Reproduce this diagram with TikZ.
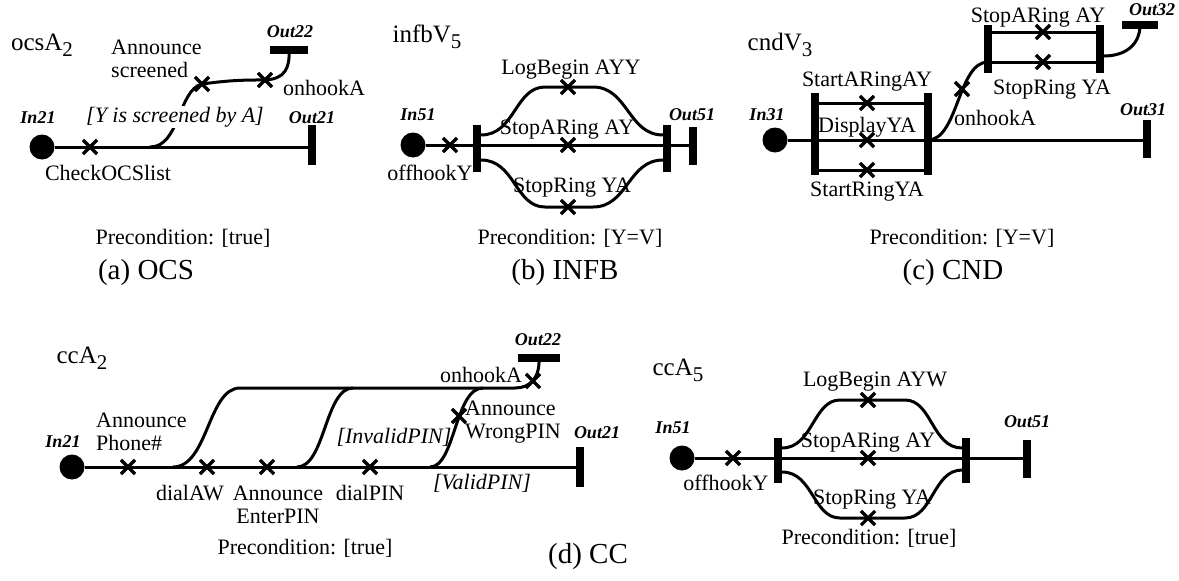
\documentclass[tikz,border=0pt]{standalone}
\usepackage{fontspec}
\setmainfont{Liberation Serif}
\usetikzlibrary{shapes.misc}
\newcommand\lowsub[1]{\raisebox{-6pt}{\fontsize{21}{21}\selectfont #1}}
\tikzset{
 wire/.style={line width=3pt},
 lbl/.style={font=\fontsize{22}{23}\selectfont, inner sep=0pt},
 ttl/.style={font=\fontsize{25}{28}\selectfont, inner sep=0pt},
 capt/.style={font=\fontsize{29}{32}\selectfont, inner sep=0pt},
 port/.style={font=\fontsize{18}{20}\selectfont\bfseries\itshape, inner sep=0pt},
 guard/.style={font=\fontsize{22}{25}\selectfont\itshape, inner sep=1pt},
 xmark/.style={cross out, draw, line width=3.2pt, minimum size=11pt, inner sep=0pt},
 vbar/.style={fill, rectangle, minimum width=8pt, minimum height=#1, inner sep=0pt},
 hbar/.style={fill, rectangle, minimum height=8pt, minimum width=#1, inner sep=0pt},
 indot/.style={circle, fill, minimum size=25pt, inner sep=0pt},
}
\begin{document}
\begin{tikzpicture}[x=1pt,y=-1pt]
\useasboundingbox[fill=white] (0,0) rectangle (1179,581);

% ================= (a) OCS =================
\node[ttl] (tA) at (42,45) {ocsA\lowsub{2}};
\node[indot] (inA) at (42,147) {};
\node[port] (inAl) at (38,118) {In21};
\node[vbar=40pt] (outA1) at (312,145) {};
\node[port] (outA1l) at (312,118) {Out21};
\draw[wire] (inA) -- (inA -| outA1);
\node[xmark] (xA1) at (90,147) {};
\node[lbl] (lA1) at (108,173) {CheckOCSlist};
\coordinate (brA) at (150,147);
\node[xmark] (xA2) at (202,84) {};
\node[xmark] (xA3) at (265,80) {};
\node[hbar=38pt] (outA2) at (289,50) {};
\node[port] (outA2l) at (290,32) {Out22};
\draw[wire] (brA) .. controls (180,147) and (178,90) .. (xA2.center)
  to[bend left=4] (xA3.center) .. controls (285,79) and (290,68) .. (outA2.center);
\node[guard, fill=white] (gA) at (175,117) {[Y is screened by A]};
\node[lbl, align=left, anchor=west] (lA2) at (111,59) {Announce\\screened};
\node[lbl, anchor=west] (lA3) at (283,88) {onhookA};
\node[lbl] (pA) at (183,238) {Precondition: [true]};
\node[capt] (cA) at (146,273) {(a) OCS};

% ================= (b) INFB =================
\node[ttl] (tB) at (427,37) {infbV\lowsub{5}};
\node[indot] (inB) at (413,145) {};
\node[port] (inBl) at (418,115) {In51};
\node[vbar=47pt] (bB1) at (477,148) {};
\node[vbar=47pt] (bB2) at (667,148) {};
\node[vbar=38pt] (outB) at (693,146) {};
\node[port] (outBl) at (692,115) {Out51};
\draw[wire] (inB) -- (inB -| outB);
\node[xmark] (xB1) at (450,145) {};
\node[lbl] (lB1) at (430,173) {offhookY};
\coordinate (bB1t) at (481,135); \coordinate (bB2t) at (663,135);
\coordinate (bB1b) at (481,160); \coordinate (bB2b) at (663,160);
\draw[wire] (bB1t) .. controls (515,135) and (515,87) .. (545,87) -- (593,87)
  .. controls (628,87) and (628,135) .. (bB2t);
\draw[wire] (bB1b) .. controls (515,160) and (515,207) .. (545,207) -- (593,207)
  .. controls (628,207) and (628,160) .. (bB2b);
\node[xmark] (xB2) at (568,87) {};
\node[xmark] (xB3) at (568,145) {};
\node[xmark] (xB4) at (568,207) {};
\node[lbl] (lB2) at (571,70) {LogBegin AYY};
\node[lbl] (lB3) at (567,130) {StopARing AY};
\node[lbl] (lB4) at (572,188) {StopRing YA};
\node[lbl] (pB) at (570,238) {Precondition: [Y=V]};
\node[capt] (cB) at (565,273) {(b) INFB};

% ================= (c) CND =================
\node[ttl] (tC) at (780,45) {cndV\lowsub{3}};
\node[indot] (inC) at (775,140) {};
\node[port] (inCl) at (767,115) {In31};
\node[vbar=82pt] (bC1) at (815,134) {};
\node[vbar=82pt] (bC2) at (928,134) {};
\node[vbar=38pt] (outC1) at (1147,139) {};
\node[port] (outC1l) at (1143,110) {Out31};
\draw[wire] (inC) -- (inC -| outC1);
\node[xmark] (xC1) at (867,103) {};
\node[xmark] (xC2) at (867,140) {};
\node[xmark] (xC3) at (867,170) {};
\draw[wire] (bC1 |- xC1) -- (bC2 |- xC1);
\draw[wire] (bC1 |- xC3) -- (bC2 |- xC3);
\node[lbl] (lC1) at (867,82) {StartARingAY};
\node[lbl] (lC2) at (867,127) {DisplayYA};
\node[lbl] (lC3) at (867,192) {StartRingYA};
\node[vbar=48pt] (bD1) at (988,49) {};
\node[vbar=48pt] (bD2) at (1100,49) {};
\node[xmark] (xD1) at (1043,32) {};
\node[xmark] (xD2) at (1043,62) {};
\draw[wire] (bD1 |- xD1) -- (bD2 |- xD1);
\draw[wire] (bD1 |- xD2) -- (bD2 |- xD2);
\draw[wire] (bC2 |- inC) .. controls (958,140) and (958,62) .. (bD1 |- xD2);
\node[xmark] (xC4) at (962,89) {};
\node[hbar=36pt] (outC2) at (1140,25) {};
\node[port] (outC2l) at (1152,10) {Out32};
\coordinate (bD2o) at (1104,56);
\draw[wire] (bD2o) .. controls (1125,56) and (1140,45) .. (outC2.center);
\node[lbl] (lD1) at (1038,18) {StopARing AY};
\node[lbl] (lD2) at (1052,90) {StopRing YA};
\node[lbl] (lC4) at (995,118) {onhookA};
\node[lbl] (pC) at (962,238) {Precondition: [Y=V]};
\node[capt] (cC) at (953,273) {(c) CND};

% ================= (d) CC =================
\node[ttl] (tD) at (82,358) {ccA\lowsub{2}};
\node[indot] (inD) at (72,467) {};
\node[port] (inDl) at (63,442) {In21};
\node[vbar=40pt] (outD1) at (580,467) {};
\node[port] (outD1l) at (597,433) {Out21};
\draw[wire] (inD) -- (inD -| outD1);
\node[xmark] (xE1) at (128,467) {};
\node[xmark] (xE2) at (207,467) {};
\node[xmark] (xE3) at (267,467) {};
\node[xmark] (xE4) at (370,467) {};
\coordinate (brD1) at (173,467);
\coordinate (brD2) at (297,467);
\coordinate (brD3) at (430,467);
\node[hbar=42pt] (outD2) at (539,358) {};
\node[port] (outD2l) at (538,340) {Out22};
\draw[wire] (brD1) .. controls (208,467) and (208,388) .. (240,388) -- (515,388)
  .. controls (530,388) and (540,378) .. (outD2.center);
\draw[wire] (brD2) .. controls (325,467) and (325,388) .. (353,388);
\draw[wire] (brD3) .. controls (455,467) and (455,388) .. (483,388);
\node[xmark] (xE5) at (459,416) {};
\node[xmark] (xE6) at (533,381) {};
\node[lbl, align=left, anchor=west] (lE1) at (96,432) {Announce\\Phone\#};
\node[lbl] (lE2) at (190,493) {dialAW};
\node[lbl, align=center] (lE3) at (278,505) {Announce\\EnterPIN};
\node[lbl] (lE4) at (370,493) {dialPIN};
\node[guard] (gE1) at (394,437) {[InvalidPIN]};
\node[guard] (gE2) at (482,483) {[ValidPIN]};
\node[lbl, align=left, anchor=west] (lE5) at (465,422) {Announce\\WrongPIN};
\node[lbl] (lE6) at (481,375) {onhookA};
\node[lbl] (pD) at (305,548) {Precondition: [true]};
\node[capt] (cD) at (588,557) {(d) CC};

% ================= ccA5 =================
\node[ttl] (tF) at (678,370) {ccA\lowsub{5}};
\node[indot] (inF) at (682,458) {};
\node[port] (inFl) at (673,428) {In51};
\node[vbar=45pt] (bF1) at (778,460) {};
\node[vbar=45pt] (bF2) at (966,460) {};
\node[vbar=38pt] (outF) at (1027,459) {};
\node[port] (outFl) at (1027,422) {Out51};
\draw[wire] (inF) -- (inF -| outF);
\node[xmark] (xF1) at (733,458) {};
\node[lbl] (lF1) at (726,483) {offhookY};
\coordinate (bF1t) at (782,448); \coordinate (bF2t) at (962,448);
\coordinate (bF1b) at (782,472); \coordinate (bF2b) at (962,470);
\draw[wire] (bF1t) .. controls (813,448) and (813,400) .. (840,400) -- (905,400)
  .. controls (932,400) and (932,448) .. (bF2t);
\draw[wire] (bF1b) .. controls (813,472) and (813,518) .. (840,518) -- (905,518)
  .. controls (933,518) and (933,470) .. (bF2b);
\node[xmark] (xF2) at (868,400) {};
\node[xmark] (xF3) at (868,458) {};
\node[xmark] (xF4) at (868,518) {};
\node[lbl] (lF2) at (875,382) {LogBegin AYW};
\node[lbl] (lF3) at (868,443) {StopARing AY};
\node[lbl] (lF4) at (872,500) {StopRing YA};
\node[lbl] (pF) at (869,538) {Precondition: [true]};
\end{tikzpicture}
\end{document}
